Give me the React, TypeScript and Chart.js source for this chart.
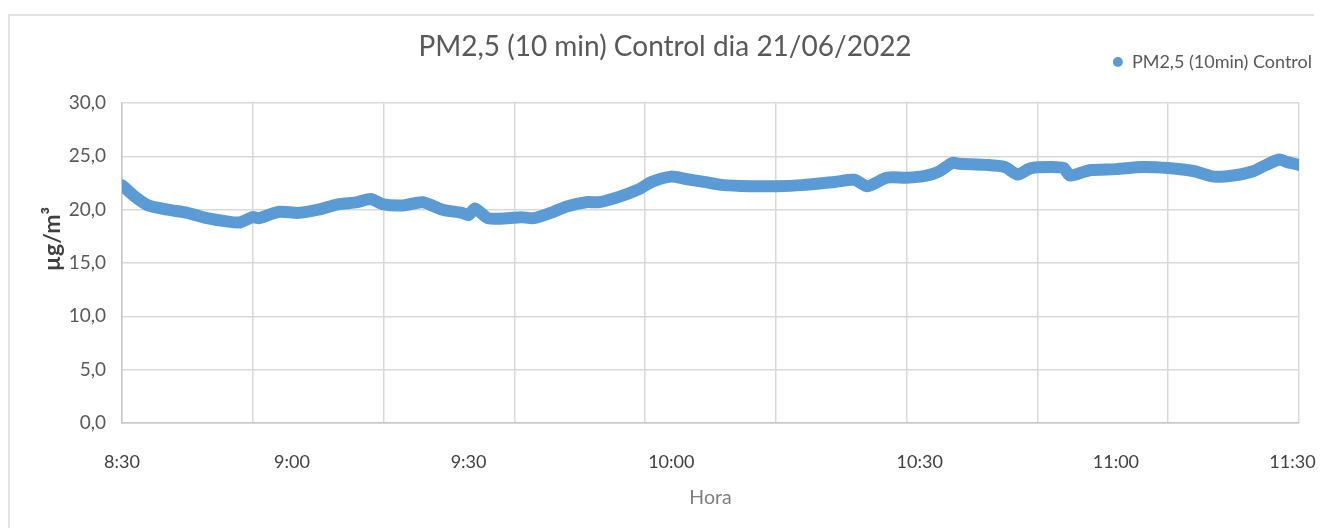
import React, { useEffect, useRef } from 'react';
import { Chart, registerables } from 'chart.js';

Chart.register(...registerables);

// Sample position along the horizontal axis (Excel category index, 0–180)
const sampleIndex = [
  0, 2, 4, 7, 10, 13, 16, 18, 20, 21, 24, 27, 30, 33, 36, 38, 40, 43, 46, 49,
  52, 53, 54, 56, 59, 61, 63, 66, 68, 71, 73, 76, 79, 81, 84, 86, 89, 92, 96, 100,
  104, 109, 112, 114, 117, 120, 123, 125, 127, 128, 132, 135, 137, 139, 142, 144, 145, 148, 152, 156,
  160, 164, 167, 170, 173, 175, 177, 178, 180,
];

// PM2,5 concentration (µg/m³)
const pm25Values = [
  22.3, 21.2, 20.4, 20.0, 19.7, 19.2, 18.9, 18.8, 19.3, 19.2, 19.8, 19.7, 20.0, 20.5, 20.7, 21.0, 20.5, 20.4, 20.7, 20.0,
  19.7, 19.5, 20.1, 19.2, 19.2, 19.3, 19.2, 19.8, 20.3, 20.7, 20.7, 21.2, 21.9, 22.6, 23.1, 22.9, 22.6, 22.3, 22.2, 22.2,
  22.3, 22.6, 22.8, 22.2, 23.0, 23.0, 23.2, 23.6, 24.4, 24.3, 24.2, 24.0, 23.3, 23.9, 24.0, 23.9, 23.2, 23.7, 23.8, 24.0,
  23.9, 23.6, 23.1, 23.2, 23.6, 24.2, 24.7, 24.5, 24.2,
];

const gridPositions = [0, 20, 40, 60, 80, 100, 120, 140, 160, 180];
const xTickPositions = [0, 26, 53, 84, 122, 152, 179];
const xTickLabels = ['8:30', '9:00', '9:30', '10:00', '10:30', '11:00', '11:30'];

const yMin = 0;
const yMax = 30;
const yStep = 5;

const chartTitle = 'PM2,5 (10 min) Control dia 21/06/2022';
const seriesLabel = 'PM2,5 (10min) Control';
const xAxisTitle = 'Hora';
const yAxisTitle = 'µg/m³';

const FONT = 'Lato, "Open Sans", sans-serif';
const LEGEND_DX = 45;
const LEGEND_DY = -22;

const legendShift = {
  id: 'legendShift',
  afterLayout(chart: any) {
    const lg = chart.legend;
    if (!lg) return;
    lg.left += LEGEND_DX;
    lg.right += LEGEND_DX;
    lg.top += LEGEND_DY;
    lg.bottom += LEGEND_DY;
  },
};

// Y-axis title, drawn a little above the axis centre as in the original
const yTitlePlugin = {
  id: 'yTitlePlugin',
  afterDraw(chart: any) {
    const { ctx, chartArea, scales } = chart;
    const y = scales.y;
    if (!y) return;
    ctx.save();
    ctx.translate(y.left + 23, (chartArea.top + chartArea.bottom) / 2 - 24);
    ctx.rotate(-Math.PI / 2);
    ctx.textAlign = 'center';
    ctx.textBaseline = 'middle';
    ctx.fillStyle = '#404040';
    ctx.font = `bold 23px ${FONT}`;
    ctx.fillText(yAxisTitle, 0, 0);
    ctx.restore();
  },
};

export default function App() {
  const canvasRef = useRef<HTMLCanvasElement | null>(null);

  useEffect(() => {
    document.documentElement.style.overflow = 'hidden';
    document.body.style.overflow = 'hidden';
    if (!canvasRef.current) return;
    const points = sampleIndex.map((x, i) => ({ x, y: pm25Values[i] }));
    const baseLabels = Chart.defaults.plugins.legend.labels.generateLabels;
    const chart = new Chart(canvasRef.current, {
      type: 'line',
      data: {
        datasets: [
          {
            label: seriesLabel,
            data: points,
            borderColor: '#5B9BD5',
            backgroundColor: '#5B9BD5',
            borderWidth: 12,
            borderCapStyle: 'round',
            borderJoinStyle: 'round',
            pointRadius: 0,
            pointStyle: 'circle',
            tension: 0.25,
            fill: false,
          },
        ],
      },
      plugins: [legendShift, yTitlePlugin],
      options: {
        responsive: false,
        animation: false,
        layout: { padding: { top: 0, left: 20, right: 27, bottom: 15.3 } },
        plugins: {
          title: {
            display: true,
            text: chartTitle,
            color: '#595959',
            font: { family: FONT, size: 28, weight: 'normal' },
            padding: { top: 14.2, bottom: -21.8 },
          },
          legend: {
            display: true,
            align: 'end',
            labels: {
              usePointStyle: true,
              pointStyle: 'circle',
              boxHeight: 7,
              pointStyleWidth: 10,
              padding: 33,
              color: '#595959',
              font: { family: FONT, size: 18 },
              generateLabels: (c: any) =>
                baseLabels(c).map((item: any) => ({ ...item, lineWidth: 0, strokeStyle: 'rgba(0,0,0,0)' })),
            },
          },
          tooltip: { enabled: false },
        },
        scales: {
          x: {
            type: 'linear',
            min: 0,
            max: 180,
            afterBuildTicks: (axis: any) => {
              const vals = Array.from(new Set([...gridPositions, ...xTickPositions])).sort((a, b) => a - b);
              axis.ticks = vals.map((v) => ({ value: v }));
            },
            afterFit: (scale: any) => {
              scale.height = 89.7;
            },
            grid: {
              drawTicks: false,
              lineWidth: 1.5,
              color: (ctx: any) =>
                ctx.tick && gridPositions.includes(ctx.tick.value) ? '#d9d9d9' : 'rgba(0,0,0,0)',
            },
            border: { color: '#c8c8c8', width: 1.5 },
            ticks: {
              autoSkip: false,
              maxRotation: 0,
              padding: 28,
              color: '#404040',
              font: { family: FONT, size: 18 },
              callback: (value: any) => {
                const i = xTickPositions.indexOf(Number(value));
                return i >= 0 ? xTickLabels[i] : '';
              },
            },
            title: {
              display: true,
              text: xAxisTitle,
              color: '#7f7f7f',
              font: { family: FONT, size: 19.5 },
              padding: { top: 4, bottom: 3 },
            },
          },
          y: {
            min: yMin,
            max: yMax,
            afterFit: (scale: any) => {
              scale.width = 92;
            },
            grid: { drawTicks: false, lineWidth: 1.5, color: '#d9d9d9' },
            border: { color: '#c8c8c8', width: 1.5 },
            ticks: {
              stepSize: yStep,
              padding: 16,
              color: '#595959',
              font: { family: FONT, size: 19 },
              callback: (value: any) => Number(value).toFixed(1).replace('.', ','),
            },
            title: { display: false },
          },
        },
      },
    });
    return () => chart.destroy();
  }, []);

  return (
    <div
      style={{
        position: 'absolute',
        left: 8,
        top: 14,
        width: 1306,
        height: 514,
        borderTop: '2px solid #e3e3e3',
        borderLeft: '2px solid #e3e3e3',
        boxSizing: 'border-box',
      }}
    >
      <canvas ref={canvasRef} width={1317} height={512} style={{ display: 'block' }} />
    </div>
  );
}
